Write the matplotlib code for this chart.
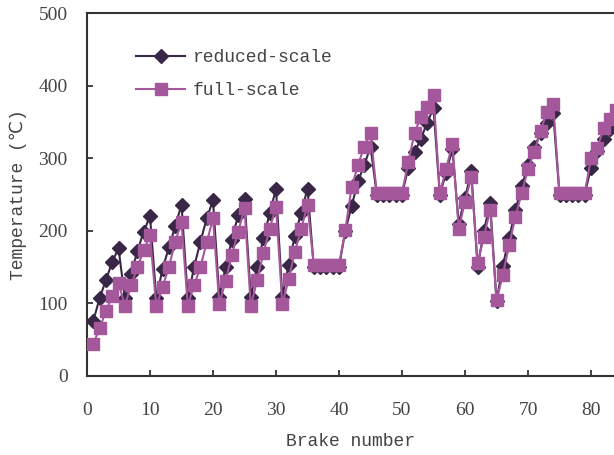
import matplotlib
matplotlib.use("Agg")
import matplotlib.pyplot as plt

# brake numbers 1..84 (chart is cropped on the right near 83.6)
brake = list(range(1, 85))

reduced_scale = [
    76, 107, 132, 157, 176,
    108, 141, 172, 199, 220,
    107, 148, 177, 206, 236,
    107, 150, 185, 217, 242,
    109, 150, 188, 222, 244,
    109, 150, 190, 224, 258,
    109, 153, 193, 225, 258,
    150, 150, 150, 150, 150,
    200, 234, 268, 290, 316,
    250, 250, 250, 250, 250,
    287, 308, 327, 349, 369,
    250, 280, 313, 210, 245, 282, 150, 200, 238, 103,
    152, 190, 228, 262, 290, 315, 335, 349, 362,
    250, 250, 250, 250, 250,
    287, 310, 327, 340, 350,
]

full_scale = [
    44, 66, 89, 110, 128,
    97, 125, 150, 173, 194,
    96, 123, 150, 185, 212,
    97, 125, 150, 184, 217,
    99, 131, 167, 199, 231,
    96, 132, 169, 203, 233,
    99, 133, 171, 203, 235,
    153, 153, 153, 153, 153,
    201, 260, 290, 316, 335,
    252, 252, 252, 252, 252,
    295, 335, 357, 371, 387,
    252, 285, 320, 203, 240, 274, 156, 192, 229, 104,
    139, 180, 219, 252, 285, 309, 337, 364, 375,
    252, 252, 252, 252, 252,
    300, 314, 341, 354, 367,
]

x_ticks = [0, 10, 20, 30, 40, 50, 60, 70, 80]
y_ticks = [0, 100, 200, 300, 400, 500]

DARK = "#3a2748"
MAGENTA = "#a5579b"
TEXT = "#444444"
SPINE = "#333333"
MONO = ["Liberation Mono", "DejaVu Sans Mono", "DejaVu Sans"]
SERIF = ["Liberation Serif", "DejaVu Serif"]

fig = plt.figure(figsize=(6.14, 4.55), dpi=100)
ax = fig.add_axes([87 / 614, 1 - 376 / 455, 1 - 87 / 614, (376 - 13) / 455])

ax.plot(brake, reduced_scale, color=DARK, marker="D", markersize=7.2,
        linewidth=1.5, label="reduced-scale", zorder=3)
ax.plot(brake, full_scale, color=MAGENTA, marker="s", markersize=8.3,
        linewidth=1.5, label="full-scale", zorder=4)

ax.set_xlim(0, (614 - 87) / 6.3)
ax.set_ylim(0, 500)
ax.set_xticks(x_ticks)
ax.set_yticks(y_ticks)

for side in ("left", "bottom", "top"):
    ax.spines[side].set_color(SPINE)
    ax.spines[side].set_linewidth(1.5)
ax.spines["right"].set_visible(False)

ax.tick_params(axis="both", direction="in", length=4, width=1.3, color=SPINE,
               labelcolor=TEXT, labelsize=14)
ax.tick_params(axis="x", pad=19)
ax.tick_params(axis="y", pad=14)
for lab in ax.get_xticklabels() + ax.get_yticklabels():
    lab.set_family(SERIF)

ax.set_xlabel("Brake number", family=MONO, fontsize=13, color=TEXT, labelpad=10)
ax.set_ylabel("Temperature (℃)", family=MONO, fontsize=13, color=TEXT, labelpad=8)

leg = ax.legend(loc="upper left", bbox_to_anchor=(0.063, 0.945), frameon=False,
                handlelength=2.7, handletextpad=0.4, labelspacing=0.9,
                prop={"family": MONO, "size": 13})
for t in leg.get_texts():
    t.set_color(TEXT)

fig.savefig("out.png", dpi=100)
